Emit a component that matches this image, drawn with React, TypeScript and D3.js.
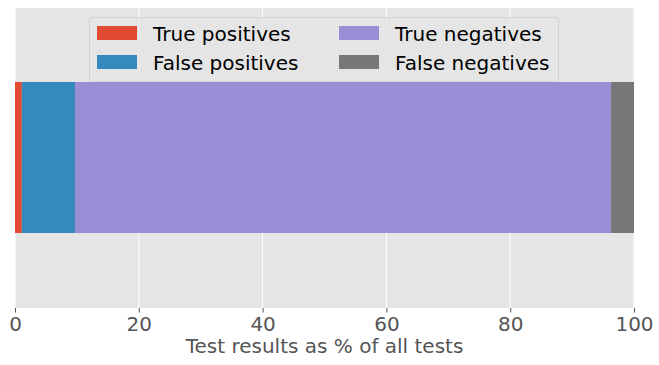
import React, { useEffect, useRef } from "react";
import * as d3 from "d3";

const categories = ["True positives", "False positives", "True negatives", "False negatives"];
const values = [1.1, 8.6, 86.6, 3.7];
const colors = ["#E24A33", "#348ABD", "#988ED5", "#777777"];
const xTicks = [0, 20, 40, 60, 80, 100];

const App = () => {
  const ref = useRef<SVGSVGElement>(null);

  useEffect(() => {
    const width = 659;
    const height = 365;
    const margin = { top: 8, right: 25, bottom: 57, left: 15 };
    const innerWidth = width - margin.left - margin.right;
    const innerHeight = height - margin.top - margin.bottom;
    const font = "DejaVu Sans, sans-serif";

    const svg = d3.select(ref.current).attr("width", width).attr("height", height);
    svg.selectAll("*").remove();

    const g = svg.append("g").attr("transform", `translate(${margin.left}, ${margin.top})`);

    const xScale = d3.scaleLinear().domain([0, 100]).range([0, innerWidth]);
    const yScale = d3.scaleLinear().domain([-1, 1]).range([innerHeight, 0]);
    const barHeight = 1.0;

    g.append("rect").attr("width", innerWidth).attr("height", innerHeight).attr("fill", "#E5E5E5");

    // grid lines
    g.selectAll(".grid").data(xTicks)
      .join("line").attr("class", "grid")
      .attr("x1", d => xScale(d)).attr("x2", d => xScale(d))
      .attr("y1", 0).attr("y2", innerHeight)
      .attr("stroke", "white").attr("stroke-width", 1);

    // stacked bar
    const starts = values.map((v, i) => d3.sum(values.slice(0, i)));
    g.selectAll(".seg").data(values)
      .join("rect").attr("class", "seg")
      .attr("x", (d, i) => xScale(starts[i]))
      .attr("width", (d, i) => xScale(starts[i] + d) - xScale(starts[i]))
      .attr("y", yScale(barHeight / 2) - 1)
      .attr("height", yScale(-barHeight / 2) - yScale(barHeight / 2) + 1)
      .attr("fill", (d, i) => colors[i]);

    // x axis
    const xAxis = d3.axisBottom(xScale).tickValues(xTicks).tickSize(4.5).tickPadding(4);
    const ax = g.append("g").attr("transform", `translate(0, ${innerHeight})`).call(xAxis);
    ax.select(".domain").remove();
    ax.selectAll(".tick line").attr("stroke", "#555555").attr("stroke-width", 1);
    ax.selectAll(".tick text")
      .attr("fill", "#555555")
      .style("font-family", font)
      .style("font-size", "20px");

    svg.append("text")
      .attr("text-anchor", "middle")
      .attr("x", margin.left + innerWidth / 2)
      .attr("y", 353)
      .attr("fill", "#555555")
      .style("font-family", font)
      .style("font-size", "20px")
      .text("Test results as % of all tests");

    // legend
    const legend = svg.append("g");
    legend.append("rect")
      .attr("x", 89.5).attr("y", 17.5).attr("width", 469).attr("height", 64)
      .attr("rx", 3)
      .attr("fill", "#E5E5E5").attr("fill-opacity", 0.8)
      .attr("stroke", "#CCCCCC").attr("stroke-opacity", 0.8);

    const colX = [97, 339];
    const rowY = [26, 55];
    categories.forEach((c, i) => {
      const col = i < 2 ? 0 : 1;
      const row = i % 2;
      legend.append("rect")
        .attr("x", colX[col]).attr("y", rowY[row])
        .attr("width", 40).attr("height", 14)
        .attr("fill", colors[i]);
      legend.append("text")
        .attr("x", colX[col] + 56).attr("y", rowY[row] + 14.5)
        .attr("fill", "#000")
        .style("font-family", font)
        .style("font-size", "20px")
        .text(c);
    });
  }, []);

  return (
    <div style={{ position: "absolute", left: 0, top: 0 }}>
      <svg ref={ref} style={{ display: "block", background: "white" }}></svg>
    </div>
  );
};

export default App;
